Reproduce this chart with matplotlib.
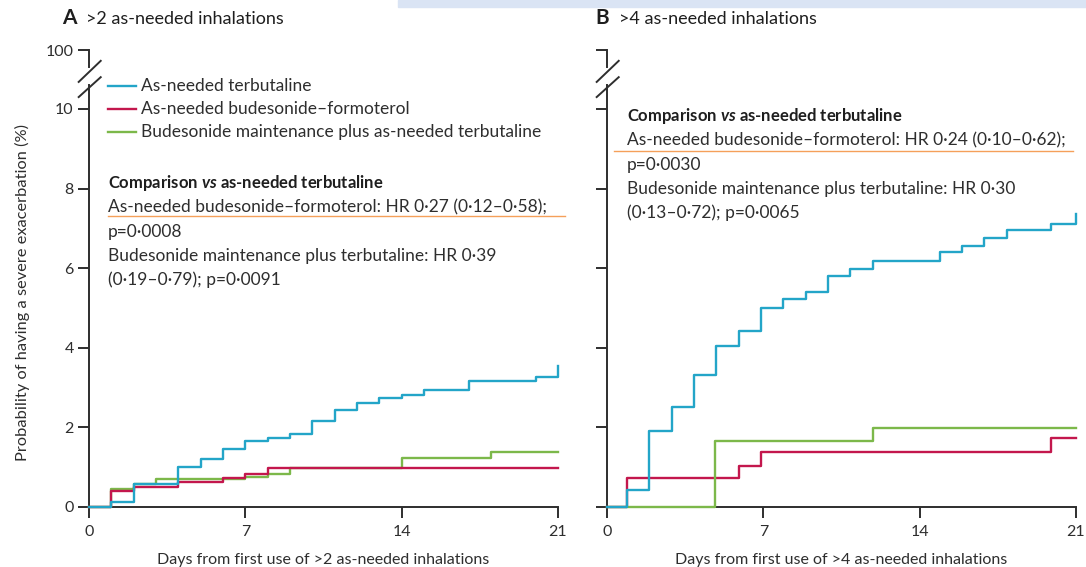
import matplotlib
matplotlib.use("Agg")
import matplotlib.pyplot as plt
from matplotlib.lines import Line2D
from matplotlib.patches import Rectangle

plt.rcParams['font.family'] = ['Lato', 'DejaVu Sans']
plt.rcParams['mathtext.fontset'] = 'custom'
plt.rcParams['mathtext.it'] = 'Lato:italic:bold'
plt.rcParams['mathtext.rm'] = 'Lato:bold'

# --- data: cumulative probability (%) of a severe exacerbation, step curves ---
# panel A: >2 as-needed inhalations
a_terb_days = [0, 1, 2, 4, 5, 6, 7, 8, 9, 10, 11, 12, 13, 14, 15, 17, 20, 21]
a_terb_prob = [0, 0.13, 0.57, 1.0, 1.2, 1.45, 1.65, 1.73, 1.83, 2.17, 2.43, 2.61, 2.73, 2.82, 2.95, 3.16, 3.26, 3.54]
a_budform_days = [0, 1, 2, 4, 6, 7, 8, 21]
a_budform_prob = [0, 0.40, 0.49, 0.63, 0.74, 0.84, 0.97, 0.97]
a_budmaint_days = [0, 1, 2, 3, 7, 8, 9, 14, 18, 21]
a_budmaint_prob = [0, 0.45, 0.57, 0.70, 0.76, 0.83, 0.97, 1.24, 1.38, 1.38]

# panel B: >4 as-needed inhalations
b_terb_days = [0, 0.9, 1.9, 2.9, 3.9, 4.9, 5.9, 6.9, 7.9, 8.9, 9.9, 10.9, 11.9, 14.9, 15.9, 16.9, 17.9, 19.9, 21]
b_terb_prob = [0, 0.42, 1.92, 2.51, 3.32, 4.05, 4.41, 5.0, 5.22, 5.40, 5.80, 5.98, 6.18, 6.40, 6.57, 6.75, 6.97, 7.12, 7.37]
b_budform_days = [0, 0.9, 5.9, 6.9, 19.9, 21]
b_budform_prob = [0, 0.72, 1.03, 1.38, 1.74, 1.74]
b_budmaint_days = [0, 4.85, 11.9, 21]
b_budmaint_prob = [0, 1.67, 1.99, 1.99]

series_names = ["As-needed terbutaline",
                "As-needed budesonide\u2013formoterol",
                "Budesonide maintenance plus as-needed terbutaline"]
colors = ["#23a5c8", "#c3174d", "#7cb84a"]

y_ticks = [0, 2, 4, 6, 8, 10]
x_ticks = [0, 7, 14, 21]

W, H = 1086, 567
DARK = "#2e2e2e"
TXT = 12.5


def px(x, y):
    return x / W, 1 - y / H


fig = plt.figure(figsize=(W / 100, H / 100), dpi=100)

# faint highlight strip along the top edge
fig.patches.append(Rectangle(px(398, 7), (W - 398) / W, 7 / H,
                             transform=fig.transFigure, color="#dae4f4", zorder=0))

# axes in pixel coordinates: y=0 at 507 px, 39.8 px per percent
unit = 39.8
top_px = 50
ytop = (507 - top_px) / unit


def make_axes(left, label_ticks):
    ax = fig.add_axes([left / W, (H - 507) / H, 469 / W, (507 - top_px) / H])
    ax.set_xlim(0, 21)
    ax.set_ylim(0, ytop)
    for s in ["top", "right", "left"]:
        ax.spines[s].set_visible(False)
    ax.spines["bottom"].set_color(DARK)
    ax.spines["bottom"].set_linewidth(1.4)
    ax.set_xticks(x_ticks)
    ax.set_yticks(y_ticks + [ytop])
    if label_ticks:
        ax.set_yticklabels([str(t) for t in y_ticks] + ["100"])
    else:
        ax.set_yticklabels([])
    ax.tick_params(axis="both", direction="out", length=8, width=1.4,
                   color=DARK, labelcolor=DARK, labelsize=11.5)
    ax.tick_params(axis="x", pad=5)
    ax.tick_params(axis="y", pad=3)

    # broken y axis: lower part, upper part and two slashes
    tr = ax.get_yaxis_transform()
    ax.plot([0, 0], [0, 10.6], color=DARK, lw=1.4, transform=tr, clip_on=False)
    ax.plot([0, 0], [11.05, ytop], color=DARK, lw=1.4, transform=tr, clip_on=False)
    for y0, y1 in [(10.68, 11.21), (10.30, 10.80)]:
        ax.plot([-0.022, 0.025], [y0, y1], color=DARK, lw=1.4,
                transform=tr, clip_on=False)
    return ax


ax_a = make_axes(89, True)
ax_b = make_axes(607, False)

for ax, data in [
    (ax_a, [(a_budmaint_days, a_budmaint_prob, 2), (a_budform_days, a_budform_prob, 1),
            (a_terb_days, a_terb_prob, 0)]),
    (ax_b, [(b_budform_days, b_budform_prob, 1), (b_budmaint_days, b_budmaint_prob, 2),
            (b_terb_days, b_terb_prob, 0)]),
]:
    for days, prob, ci in data:
        ax.step(days, prob, where="post", color=colors[ci], lw=1.7, clip_on=False, zorder=3)

ax_a.set_ylabel("Probability of having a severe exacerbation (%)", fontsize=11.8, color=DARK)
ax_a.yaxis.set_label_coords(-0.125, 0.47)
ax_a.set_xlabel("Days from first use of >2 as-needed inhalations", fontsize=11.5, color=DARK)
ax_b.set_xlabel("Days from first use of >4 as-needed inhalations", fontsize=11.5, color=DARK)
ax_a.xaxis.set_label_coords(0.5, -0.1)
ax_b.xaxis.set_label_coords(0.5, -0.1)

# panel titles
fig.text(*px(62, 18), "A", fontsize=15, color="#1e1e1e", va="center", fontweight="bold")
fig.text(*px(86, 19), ">2 as-needed inhalations", fontsize=13, color="#1e1e1e", va="center")
fig.text(*px(595, 18), "B", fontsize=15, color="#1e1e1e", va="center", fontweight="bold")
fig.text(*px(619, 19), ">4 as-needed inhalations", fontsize=13, color="#1e1e1e", va="center")

# legend in panel A
for i, (name, c) in enumerate(zip(series_names, colors)):
    yy = [86, 109, 132][i]
    fig.add_artist(Line2D([108 / W, 136 / W], [1 - yy / H] * 2, color=c, lw=1.7))
    fig.text(*px(141, yy), name, fontsize=TXT, color=DARK, va="center")


# hazard ratio annotations
def comparison_block(x, y, lines):
    fig.text(*px(x, y), "Comparison $vs$ as-needed terbutaline", fontsize=12,
             color="#1e1e1e", va="center", fontweight="bold")
    for k, t in enumerate(lines):
        fig.text(*px(x, y + 24.3 * (k + 1)), t, fontsize=TXT, color=DARK, va="center")


comparison_block(108, 183, [
    "As-needed budesonide\u2013formoterol: HR 0\u00b727 (0\u00b712\u20130\u00b758);",
    "p=0\u00b70008",
    "Budesonide maintenance plus terbutaline: HR 0\u00b739",
    "(0\u00b719\u20130\u00b779); p=0\u00b70091",
])
comparison_block(627, 116, [
    "As-needed budesonide\u2013formoterol: HR 0\u00b724 (0\u00b710\u20130\u00b762);",
    "p=0\u00b70030",
    "Budesonide maintenance plus terbutaline: HR 0\u00b730",
    "(0\u00b713\u20130\u00b772); p=0\u00b70065",
])

# orange marker lines under the first comparison line
fig.add_artist(Line2D([108 / W, 565 / W], [1 - 216 / H] * 2, color="#f5a05a", lw=1.0))
fig.add_artist(Line2D([614 / W, 1073 / W], [1 - 150.5 / H] * 2, color="#f5a05a", lw=1.0))

fig.savefig("out.png", dpi=100)
